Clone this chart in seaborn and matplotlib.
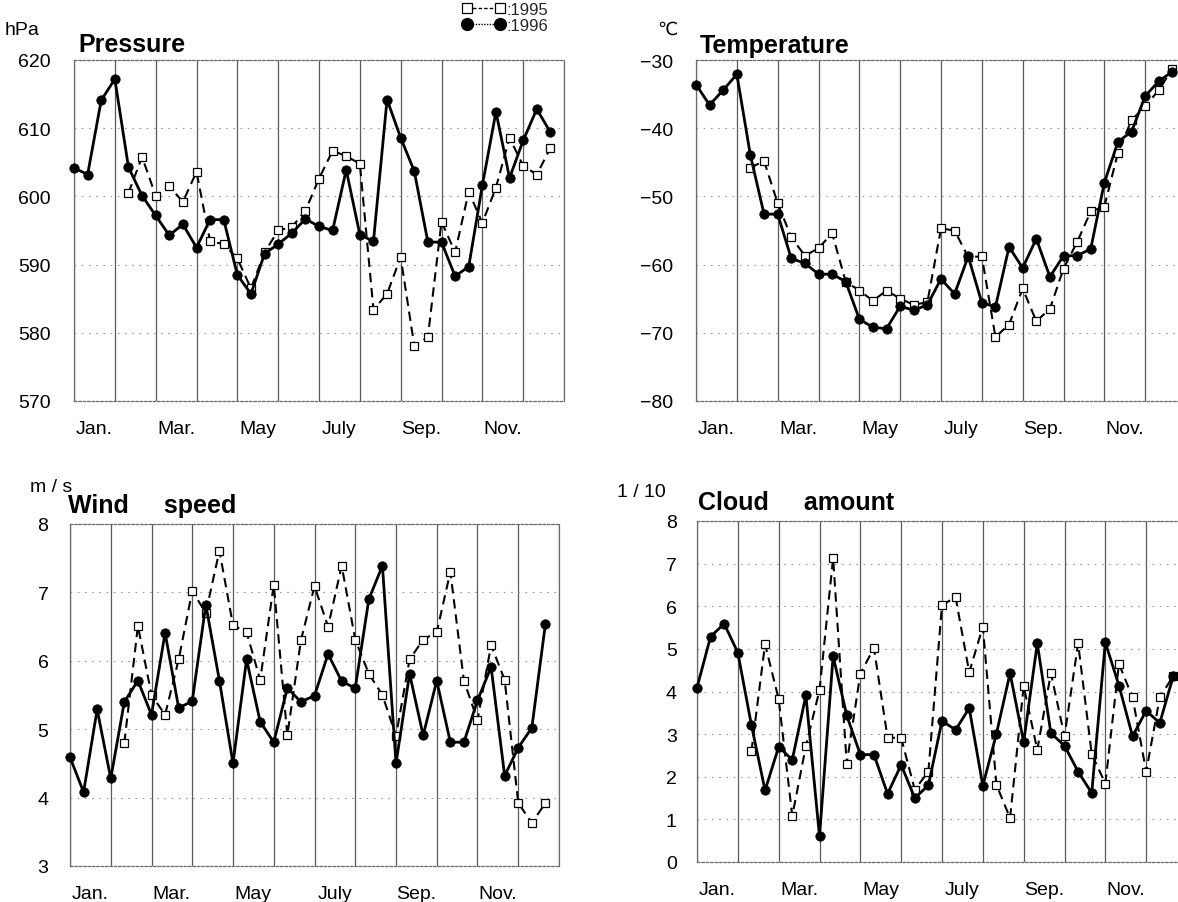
import numpy as np
import matplotlib
matplotlib.use("Agg")
import matplotlib.pyplot as plt
from matplotlib.lines import Line2D
import seaborn as sns

# Ten-day periods, three per month: 0 = Jan 1-10 ... 35 = Dec 21-31
decades_1996 = np.arange(36)
decades_1995 = np.arange(4, 36)   # the 1995 record starts in February

month_labels = ["Jan.", "Mar.", "May", "July", "Sep.", "Nov."]
year_labels = [":1995", ":1996"]

# Station pressure (hPa)
pressure_1995 = [600.5, 605.8, 600.1, 601.5, 599.2, 603.6, 593.4, 593.0,
                 590.9, 586.5, 591.8, 595.0, 595.5, 597.9, 602.6, 606.7,
                 605.9, 604.8, 583.4, 585.7, 591.1, 578.1, 579.4, 596.3,
                 591.8, 600.7, 596.1, 601.3, 608.6, 604.5, 603.2, 607.1]
pressure_1996 = [604.2, 603.2, 614.1, 617.2, 604.3, 600.1, 597.2, 594.3,
                 595.9, 592.5, 596.6, 596.6, 588.5, 585.7, 591.6, 593.0,
                 594.6, 596.7, 595.6, 595.0, 603.9, 594.4, 593.4, 614.2,
                 608.6, 603.7, 593.3, 593.3, 588.3, 589.7, 601.6, 612.4,
                 602.7, 608.2, 612.8, 609.4]

# Air temperature (deg C)
temperature_1995 = [-45.8, -44.8, -51.0, -56.0, -58.7, -57.6, -55.4, -62.5,
                    -63.8, -65.3, -63.8, -65.0, -65.9, -65.5, -54.7, -55.0,
                    -58.9, -58.8, -70.6, -68.8, -63.5, -68.3, -66.5, -60.6,
                    -56.7, -52.2, -51.5, -43.6, -38.8, -36.8, -34.4, -31.3]
temperature_1996 = [-33.6, -36.6, -34.4, -32.1, -44.0, -52.6, -52.6, -59.1,
                    -59.8, -61.4, -61.4, -62.5, -68.0, -69.2, -69.4, -66.1,
                    -66.7, -65.9, -62.1, -64.3, -58.8, -65.6, -66.2, -57.4,
                    -60.5, -56.2, -61.8, -58.7, -58.7, -57.7, -48.0, -42.0,
                    -40.5, -35.3, -33.1, -31.7]

# Wind speed (m/s)
wind_1995 = [4.80, 6.51, 5.50, 5.21, 6.02, 7.02, 6.70, 7.61,
             6.52, 6.42, 5.72, 7.11, 4.91, 6.30, 7.09, 6.50,
             7.39, 6.31, 5.81, 5.50, 4.90, 6.02, 6.31, 6.42,
             7.30, 5.71, 5.13, 6.23, 5.72, 3.92, 3.63, 3.92]
wind_1996 = [4.59, 4.08, 5.29, 4.28, 5.40, 5.71, 5.21, 6.41,
             5.31, 5.41, 6.82, 5.71, 4.50, 6.02, 5.11, 4.81,
             5.60, 5.40, 5.49, 6.10, 5.70, 5.60, 6.90, 7.39,
             4.50, 5.81, 4.91, 5.71, 4.81, 4.81, 5.42, 5.91,
             4.32, 4.73, 5.02, 6.54]

# Cloud amount (tenths)
cloud_1995 = [2.60, 5.11, 3.82, 1.08, 2.72, 4.03, 7.13, 2.31,
              4.42, 5.02, 2.92, 2.91, 1.70, 2.12, 6.03, 6.21,
              4.45, 5.52, 1.81, 1.03, 4.13, 2.63, 4.43, 2.95,
              5.13, 2.53, 1.84, 4.65, 3.86, 2.12, 3.86, 4.37]
cloud_1996 = [4.09, 5.29, 5.59, 4.91, 3.21, 1.68, 2.70, 2.40,
              3.91, 0.60, 4.83, 3.44, 2.52, 2.52, 1.60, 2.28,
              1.50, 1.80, 3.31, 3.10, 3.61, 1.79, 3.01, 4.43,
              2.81, 5.13, 3.02, 2.73, 2.12, 1.62, 5.15, 4.14,
              2.95, 3.55, 3.26, 4.37]

sns.set_theme(style="white")
plt.rcParams["font.family"] = ["Liberation Sans", "DejaVu Sans"]
plt.rcParams["axes.unicode_minus"] = True

W, H = 1178, 903
fig = plt.figure(figsize=(W / 100, H / 100), dpi=100)


def px_rect(left, top, right, bottom):
    return [left / W, 1 - bottom / H, (right - left) / W, (bottom - top) / H]


def ftext(x, y, s, **kw):
    fig.text(x / W, 1 - y / H, s, ha="left", va="baseline", color="black", **kw)


style_1995 = dict(color="black", linestyle=(0, (4.5, 2.8)), linewidth=1.5,
                  marker="s", markersize=6.0, markerfacecolor="white",
                  markeredgecolor="black", markeredgewidth=0.9)
style_1996 = dict(color="black", linestyle="-", linewidth=2.0,
                  marker="o", markersize=6.8, markerfacecolor="black",
                  markeredgecolor="black", markeredgewidth=0.5)

panels = [
    dict(rect=px_rect(74, 61, 564, 402), y95=pressure_1995, y96=pressure_1996,
         ylim=(570, 620), step=10, ypad=17),
    dict(rect=px_rect(696, 61, 1186, 402), y95=temperature_1995, y96=temperature_1996,
         ylim=(-80, -30), step=10, ypad=16.5),
    dict(rect=px_rect(70, 525, 559, 867), y95=wind_1995, y96=wind_1996,
         ylim=(3, 8), step=1, ypad=15.5),
    dict(rect=px_rect(697, 522, 1187, 863), y95=cloud_1995, y96=cloud_1996,
         ylim=(0, 8), step=1, ypad=14.5),
]

for p in panels:
    ax = fig.add_axes(p["rect"])
    ax.set_axisbelow(True)
    sns.lineplot(x=decades_1995, y=p["y95"], ax=ax, legend=False,
                 clip_on=False, zorder=3, **style_1995)
    sns.lineplot(x=decades_1996, y=p["y96"], ax=ax, legend=False,
                 clip_on=False, zorder=4, **style_1996)

    ax.set_xlim(0, 36)
    ax.set_ylim(*p["ylim"])
    yt = np.arange(p["ylim"][0], p["ylim"][1] + p["step"] / 2, p["step"])
    ax.set_yticks(yt)
    ax.set_yticklabels(["{:.0f}".format(v).replace("-", "\u2212") for v in yt])
    ax.set_xticks(np.arange(1.5, 36, 6))
    ax.set_xticklabels(month_labels)
    ax.set_xticks(np.arange(0, 37, 3), minor=True)
    ax.set_xlabel("")
    ax.set_ylabel("")

    ax.grid(False)
    ax.grid(which="minor", axis="x", color="#5a5a5a", linewidth=0.9, linestyle="-")
    ax.grid(which="major", axis="y", color="#9a9a9a", linewidth=0.8,
            linestyle=(0, (1.5, 5)))

    ax.tick_params(axis="both", which="both", length=0)
    ax.tick_params(axis="x", which="major", pad=13.5, labelsize=14, colors="black")
    ax.tick_params(axis="y", which="major", pad=p["ypad"], labelsize=14, colors="black")

    for name, sp in ax.spines.items():
        sp.set_color("#6a6a6a")
        sp.set_linewidth(0.9)
        if name in ("top", "bottom"):
            sp.set_linestyle((0, (2, 1.5)))

# panel titles and units
title_kw = dict(fontsize=18, fontweight="bold")
unit_kw = dict(fontsize=14)
ftext(5, 35, "hPa", **unit_kw)
ftext(78, 52, "Pressure", **title_kw)
ftext(657, 35, "\u2103", fontsize=13, family=["DejaVu Sans"])
ftext(700, 53, "Temperature", **title_kw)
ftext(30, 492, "m / s", **unit_kw)
ftext(68, 513, "Wind     speed", **title_kw)
ftext(617, 497, "1 / 10", **unit_kw)
ftext(698, 510, "Cloud     amount", **title_kw)

handles = [
    Line2D([], [], color="black", linestyle=(0, (2.5, 1.5)), linewidth=1.0,
           marker="s", markersize=7, markerfacecolor="white",
           markeredgecolor="black", markeredgewidth=0.9, label=year_labels[0]),
    Line2D([], [], color="black", linestyle=(0, (1, 1)), linewidth=1.0,
           marker="o", markersize=8.5, markerfacecolor="black",
           markeredgecolor="black", label=year_labels[1]),
]
fig.legend(handles=handles, loc="upper right", bbox_to_anchor=(548 / W, 1 - 3 / H),
           frameon=False, numpoints=2, handlelength=2.6, handletextpad=0.05,
           labelspacing=0.05, borderpad=0, borderaxespad=0, fontsize=12)

fig.savefig("out.png", dpi=100, facecolor="white")
